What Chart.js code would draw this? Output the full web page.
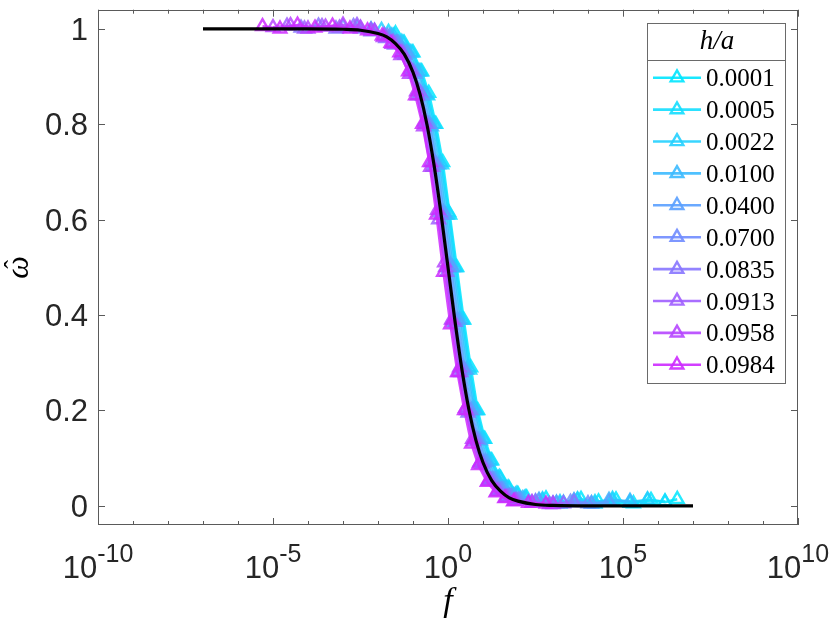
<!DOCTYPE html>
<html>
<head>
<meta charset="utf-8">
<script src="https://cdn.jsdelivr.net/npm/chart.js@4.4.1/dist/chart.umd.min.js"></script>
<style>
    html, body { margin: 0; padding: 0; background: #fff; }
</style>
</head>
<body>
<canvas id="myChart" width="830" height="623"></canvas>
<script>
// legend labels (h/a) and line colours, cyan -> magenta
const hLabels = ['0.0001', '0.0005', '0.0022', '0.0100', '0.0400', '0.0700', '0.0835', '0.0913', '0.0958', '0.0984'];
const seriesColors = [
    [0, 230, 255], [20, 222, 255], [35, 208, 255], [60, 186, 255], [90, 160, 255],
    [112, 140, 255], [135, 118, 255], [160, 94, 255], [182, 70, 255], [205, 42, 255]
];

// x values are exponents of f (f = 10^x), w values are omega-hat
const x0001 = [-1.5, -1.25, -1.0, -0.75, -0.55, -0.35, -0.15, 0.05, 0.25, 0.45, 0.65, 0.85, 1.05, 1.25, 1.5, 1.75, 2.0, 2.25, 2.8, 3.3, 3.8, 4.3, 4.8, 5.3, 5.8, 6.2, 6.55];
const w0001 = [0.99, 0.97, 0.95, 0.91, 0.865, 0.80, 0.72, 0.61, 0.5, 0.39, 0.29, 0.2, 0.14, 0.095, 0.058, 0.036, 0.024, 0.017, 0.015, 0.006, 0.014, 0.009, 0.013, 0.005, 0.012, 0.008, 0.014];

const x0005 = [-1.7, -1.53, -1.28, -1.03, -0.78, -0.58, -0.38, -0.18, 0.02, 0.22, 0.42, 0.62, 0.82, 1.02, 1.22, 1.47, 1.72, 1.97, 2.22, 2.7, 3.2, 3.7, 4.2, 4.7, 5.2, 5.7, 6.2];
const w0005 = [0.993, 0.985, 0.97, 0.95, 0.91, 0.86, 0.80, 0.715, 0.615, 0.5, 0.39, 0.285, 0.2, 0.14, 0.095, 0.06, 0.038, 0.025, 0.017, 0.011, 0.004, 0.013, 0.007, 0.014, 0.006, 0.012, 0.009];

const x0022 = [-1.9, -1.57, -1.32, -1.07, -0.82, -0.62, -0.42, -0.22, -0.02, 0.18, 0.38, 0.58, 0.78, 0.98, 1.18, 1.43, 1.68, 1.93, 2.18, 2.7, 3.2, 3.7, 4.2, 4.7, 5.2, 5.7];
const w0022 = [0.997, 0.985, 0.972, 0.95, 0.91, 0.862, 0.80, 0.72, 0.61, 0.5, 0.39, 0.29, 0.2, 0.14, 0.095, 0.058, 0.036, 0.023, 0.016, 0.013, 0.007, 0.012, 0.004, 0.011, 0.008, 0.013];

const x0100 = [-2.2, -1.62, -1.37, -1.12, -0.87, -0.67, -0.47, -0.27, -0.07, 0.13, 0.33, 0.53, 0.73, 0.93, 1.13, 1.38, 1.63, 1.88, 2.13, 2.6, 3.1, 3.6, 4.1, 4.6, 5.2];
const w0100 = [0.998, 0.985, 0.968, 0.948, 0.91, 0.865, 0.795, 0.715, 0.61, 0.5, 0.39, 0.285, 0.205, 0.137, 0.092, 0.056, 0.035, 0.022, 0.015, 0.012, 0.006, 0.011, 0.005, 0.012, 0.01];

const x0400 = [-2.6, -2.2, -1.68, -1.43, -1.18, -0.93, -0.73, -0.53, -0.33, -0.13, 0.07, 0.27, 0.47, 0.67, 0.87, 1.07, 1.32, 1.57, 1.82, 2.07, 2.6, 3.1, 3.6, 4.1, 4.6];
const w0400 = [1.002, 0.997, 0.983, 0.971, 0.95, 0.905, 0.86, 0.80, 0.715, 0.615, 0.505, 0.39, 0.285, 0.2, 0.138, 0.093, 0.055, 0.034, 0.02, 0.013, 0.01, 0.005, 0.01, 0.004, 0.008];

const x0700 = [-3.0, -2.5, -2.1, -1.73, -1.48, -1.23, -0.98, -0.78, -0.58, -0.38, -0.18, 0.02, 0.22, 0.42, 0.62, 0.82, 1.02, 1.27, 1.52, 1.77, 2.02, 2.5, 3.0, 3.5, 4.0];
const w0700 = [1.004, 1.0, 0.995, 0.984, 0.97, 0.945, 0.91, 0.865, 0.80, 0.72, 0.61, 0.50, 0.385, 0.29, 0.20, 0.14, 0.09, 0.055, 0.033, 0.02, 0.012, 0.009, 0.004, 0.008, 0.005];

const x0835 = [-4.2, -3.7, -3.2, -2.7, -2.2, -1.78, -1.53, -1.28, -1.03, -0.83, -0.63, -0.43, -0.23, -0.03, 0.17, 0.37, 0.57, 0.77, 0.97, 1.22, 1.47, 1.72, 1.97, 2.5, 3.0, 3.6];
const w0835 = [1.002, 1.006, 1.0, 1.005, 0.994, 0.98, 0.966, 0.948, 0.91, 0.87, 0.80, 0.71, 0.615, 0.49, 0.385, 0.28, 0.195, 0.14, 0.088, 0.054, 0.031, 0.019, 0.011, 0.008, 0.004, 0.007];

const x0913 = [-4.6, -4.1, -3.6, -3.1, -2.6, -2.2, -1.82, -1.57, -1.32, -1.07, -0.87, -0.67, -0.47, -0.27, -0.07, 0.13, 0.33, 0.53, 0.73, 0.93, 1.18, 1.43, 1.68, 1.93, 2.4, 2.9, 3.3];
const w0913 = [1.006, 1.0, 1.005, 1.002, 1.007, 0.996, 0.986, 0.972, 0.95, 0.915, 0.86, 0.805, 0.72, 0.60, 0.50, 0.39, 0.29, 0.20, 0.135, 0.093, 0.055, 0.032, 0.018, 0.011, 0.007, 0.003, 0.005];

const x0958 = [-5.0, -4.5, -4.0, -3.5, -3.0, -2.5, -2.1, -1.85, -1.6, -1.35, -1.1, -0.9, -0.7, -0.5, -0.3, -0.1, 0.1, 0.3, 0.5, 0.7, 0.9, 1.15, 1.4, 1.65, 1.9, 2.4, 3.0];
const w0958 = [1.003, 1.007, 1.0, 1.004, 1.008, 1.002, 0.995, 0.982, 0.968, 0.944, 0.905, 0.868, 0.795, 0.71, 0.62, 0.51, 0.39, 0.28, 0.205, 0.14, 0.09, 0.052, 0.03, 0.017, 0.01, 0.006, 0.003];

const x0984 = [-5.3, -4.8, -4.3, -3.8, -3.3, -2.8, -2.3, -1.88, -1.63, -1.38, -1.13, -0.93, -0.73, -0.53, -0.33, -0.13, 0.07, 0.27, 0.47, 0.67, 0.87, 1.12, 1.37, 1.62, 1.87, 2.3, 2.8];
const w0984 = [1.005, 1.0, 1.008, 1.002, 1.006, 1.0, 0.996, 0.985, 0.97, 0.95, 0.91, 0.86, 0.80, 0.72, 0.61, 0.49, 0.38, 0.28, 0.20, 0.13, 0.085, 0.05, 0.028, 0.016, 0.009, 0.006, 0.004];

// black master curve
const fitX = [-7, -4, -3, -2.5, -2, -1.75, -1.5, -1.25, -1, -0.8, -0.6, -0.4, -0.2, 0, 0.2, 0.4, 0.6, 0.8, 1, 1.25, 1.5, 1.75, 2, 2.5, 3, 4, 7];
const fitW = [1, 1, 0.999, 0.997, 0.99, 0.983, 0.969, 0.947, 0.909, 0.863, 0.799, 0.715, 0.613, 0.5, 0.387, 0.285, 0.201, 0.137, 0.091, 0.053, 0.031, 0.017, 0.01, 0.003, 0.001, 0, 0];

// axis ticks
const xTickExp = [-10, -5, 0, 5, 10];
const yTicks = [0, 0.2, 0.4, 0.6, 0.8, 1];
const yTickLabels = ['0', '0.2', '0.4', '0.6', '0.8', '1'];

const seriesX = [x0001, x0005, x0022, x0100, x0400, x0700, x0835, x0913, x0958, x0984];
const seriesW = [w0001, w0005, w0022, w0100, w0400, w0700, w0835, w0913, w0958, w0984];

function toPoints(ex, w) {
    return ex.map((e, i) => ({ x: Math.pow(10, e), y: w[i] }));
}
function rgba(c, a) {
    return 'rgba(' + c[0] + ',' + c[1] + ',' + c[2] + ',' + a + ')';
}

const datasets = [{
    label: 'fit',
    data: toPoints(fitX, fitW),
    showLine: true,
    borderColor: '#000',
    borderWidth: 3.2,
    pointRadius: 0,
    cubicInterpolationMode: 'monotone',
    order: 0
}];
hLabels.forEach((lab, i) => {
    datasets.push({
        label: lab,
        data: toPoints(seriesX[i], seriesW[i]),
        showLine: true,
        borderColor: rgba(seriesColors[i], 0.85),
        borderWidth: 2.6,
        pointStyle: 'triangle',
        pointRadius: 7.3,
        pointBorderWidth: 2.4,
        pointBorderColor: rgba(seriesColors[i], 0.85),
        pointBackgroundColor: 'rgba(255,255,255,0)',
        order: 10 - i
    });
});

function triangle(ctx, cx, cy, r) {
    const s = Math.sin(Math.PI / 3) * r;
    ctx.beginPath();
    ctx.moveTo(cx, cy - r);
    ctx.lineTo(cx + s, cy + r / 2);
    ctx.lineTo(cx - s, cy + r / 2);
    ctx.closePath();
    ctx.stroke();
}

// axes box, inward ticks, labels and the boxed legend
const decorPlugin = {
    id: 'decor',
    afterDraw(chart) {
        const { ctx, chartArea: a, scales: { x, y } } = chart;
        ctx.save();
        ctx.strokeStyle = '#5a5a5a';
        ctx.lineWidth = 1;
        ctx.strokeRect(Math.round(a.left) + 0.5, Math.round(a.top) + 0.5,
            Math.round(a.right - a.left) - 1, Math.round(a.bottom - a.top) - 1);

        ctx.beginPath();
        for (let e = -10; e <= 10; e++) {
            const px = Math.round(x.getPixelForValue(Math.pow(10, e))) + 0.5;
            const len = e % 5 === 0 ? 7 : 4;
            ctx.moveTo(px, a.bottom);
            ctx.lineTo(px, a.bottom - len);
            ctx.moveTo(px, a.top);
            ctx.lineTo(px, a.top + len);
        }
        yTicks.forEach(v => {
            const py = Math.round(y.getPixelForValue(v)) + 0.5;
            ctx.moveTo(a.left, py);
            ctx.lineTo(a.left + 7, py);
            ctx.moveTo(a.right, py);
            ctx.lineTo(a.right - 7, py);
        });
        ctx.stroke();

        // tick labels
        ctx.fillStyle = '#262626';
        ctx.textBaseline = 'alphabetic';
        ctx.textAlign = 'right';
        ctx.font = '31px "Liberation Sans", Arial, sans-serif';
        yTicks.forEach((v, i) => {
            ctx.fillText(yTickLabels[i], a.left - 10, y.getPixelForValue(v) + 11);
        });

        ctx.textAlign = 'left';
        xTickExp.forEach(e => {
            const px = x.getPixelForValue(Math.pow(10, e));
            ctx.font = '31px "Liberation Sans", Arial, sans-serif';
            const wBase = ctx.measureText('10').width;
            ctx.font = '25px "Liberation Sans", Arial, sans-serif';
            const sup = String(e);
            const wSup = ctx.measureText(sup).width;
            const x0 = px - (wBase + wSup) / 2;
            ctx.font = '31px "Liberation Sans", Arial, sans-serif';
            ctx.fillText('10', x0, a.bottom + 53);
            ctx.font = '25px "Liberation Sans", Arial, sans-serif';
            ctx.fillText(sup, x0 + wBase, a.bottom + 37);
        });

        // axis titles
        ctx.fillStyle = '#000';
        ctx.textAlign = 'center';
        ctx.font = 'italic 34px "Liberation Serif", "DejaVu Serif", serif';
        ctx.fillText('f', (a.left + a.right) / 2, a.bottom + 86);
        ctx.save();
        ctx.translate(28, (a.top + a.bottom) / 2);
        ctx.rotate(-Math.PI / 2);
        ctx.textBaseline = 'alphabetic';
        ctx.font = 'italic 32px "Liberation Serif", "DejaVu Serif", serif';
        ctx.fillText('\u03C9', 0, 0);
        ctx.font = '26px "Liberation Serif", "DejaVu Serif", serif';
        ctx.fillText('\u02C6', 3, -6);
        ctx.restore();

        // legend
        const lw = 138, lh = 360;
        const lx = a.right - 13 - lw, ly = a.top + 13;
        ctx.fillStyle = '#fff';
        ctx.fillRect(lx, ly, lw, lh);
        ctx.strokeStyle = '#6a6a6a';
        ctx.lineWidth = 1;
        ctx.strokeRect(Math.round(lx) + 0.5, Math.round(ly) + 0.5, lw, lh);
        ctx.beginPath();
        ctx.moveTo(lx, Math.round(ly + 37) + 0.5);
        ctx.lineTo(lx + lw, Math.round(ly + 37) + 0.5);
        ctx.stroke();

        ctx.fillStyle = '#000';
        ctx.textAlign = 'center';
        ctx.textBaseline = 'alphabetic';
        ctx.font = 'italic 27px "Liberation Serif", "DejaVu Serif", serif';
        ctx.fillText('h/a', lx + 70, ly + 26);

        ctx.textAlign = 'left';
        ctx.font = '25px "Liberation Serif", "DejaVu Serif", serif';
        hLabels.forEach((lab, i) => {
            const cy = ly + 55 + i * 31.9;
            const col = rgba(seriesColors[i], 0.9);
            ctx.strokeStyle = col;
            ctx.lineWidth = 2.6;
            ctx.beginPath();
            ctx.moveTo(lx + 6, cy);
            ctx.lineTo(lx + 54, cy);
            ctx.stroke();
            ctx.lineWidth = 2.4;
            triangle(ctx, lx + 30, cy, 7.3);
            ctx.fillStyle = '#000';
            ctx.fillText(lab, lx + 59, cy + 8.5);
        });
        ctx.restore();
    }
};

const ctx = document.getElementById('myChart').getContext('2d');
const myChart = new Chart(ctx, {
    type: 'scatter',
    data: { datasets: datasets },
    options: {
        responsive: false,
        animation: false,
        devicePixelRatio: 1,
        layout: { padding: { top: 1, right: 32, left: 0, bottom: 0 } },
        plugins: { legend: { display: false }, tooltip: { enabled: false } },
        scales: {
            x: {
                type: 'logarithmic',
                min: 1e-10,
                max: 1e10,
                border: { display: false },
                grid: { display: false },
                ticks: { display: false },
                afterFit: scale => { scale.height = 98; }
            },
            y: {
                type: 'linear',
                min: -0.04,
                max: 1.04,
                border: { display: false },
                grid: { display: false },
                ticks: { display: false },
                afterFit: scale => { scale.width = 98; }
            }
        }
    },
    plugins: [decorPlugin]
});
</script>
</body>
</html>
